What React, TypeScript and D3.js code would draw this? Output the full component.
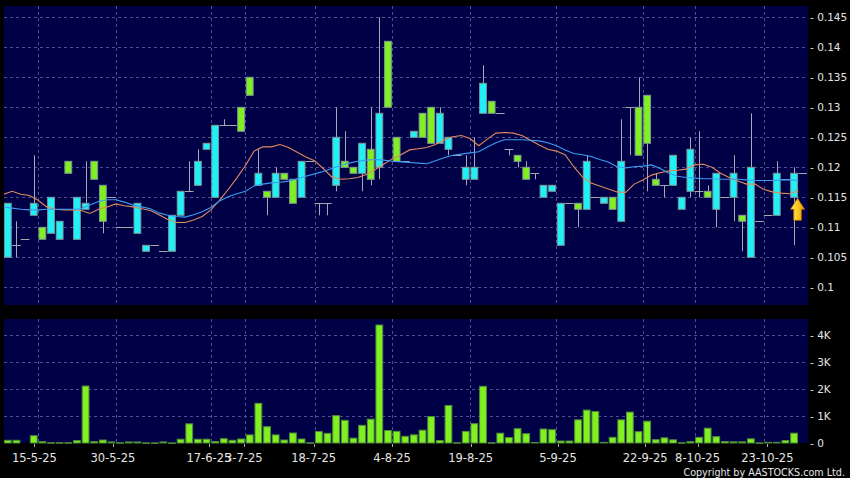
import React from 'react';
import * as d3 from 'd3';

// ---- DATA ----
const opens = [
  0.105, 0.107, 0.108, 0.112, 0.110, 0.109, 0.108, 0.121, 0.108, 0.113,
  0.121, 0.117, 0.115, 0.110, 0.110, 0.109, 0.106, 0.107, 0.106, 0.106,
  0.112, 0.116, 0.117, 0.123, 0.115, 0.127, 0.127, 0.130, 0.135, 0.117,
  0.116, 0.115, 0.119, 0.118, 0.115, 0.121, 0.114, 0.114, 0.117, 0.121,
  0.120, 0.119, 0.123, 0.120, 0.141, 0.125, 0.121, 0.125, 0.129, 0.130,
  0.124, 0.123, 0.122, 0.118, 0.118, 0.129, 0.131, 0.129, 0.123, 0.122,
  0.120, 0.119, 0.115, 0.116, 0.107, 0.114, 0.114, 0.113, 0.115, 0.114,
  0.115, 0.111, 0.130, 0.130, 0.132, 0.118, 0.117, 0.117, 0.113, 0.116,
  0.116, 0.116, 0.113, 0.115, 0.115, 0.112, 0.105, 0.111, 0.112, 0.112,
  0.118, 0.115, 0.119,
];
const closes = [
  0.114, 0.107, 0.108, 0.114, 0.108, 0.115, 0.111, 0.119, 0.115, 0.114,
  0.118, 0.111, 0.115, 0.110, 0.110, 0.114, 0.107, 0.107, 0.106, 0.112,
  0.116, 0.116, 0.121, 0.124, 0.127, 0.127, 0.127, 0.126, 0.132, 0.119,
  0.115, 0.119, 0.118, 0.114, 0.121, 0.121, 0.114, 0.114, 0.125, 0.120,
  0.119, 0.124, 0.118, 0.129, 0.130, 0.121, 0.121, 0.126, 0.125, 0.124,
  0.129, 0.125, 0.122, 0.120, 0.120, 0.134, 0.129, 0.129, 0.123, 0.121,
  0.118, 0.119, 0.117, 0.117, 0.114, 0.114, 0.113, 0.121, 0.115, 0.115,
  0.113, 0.121, 0.130, 0.122, 0.124, 0.117, 0.117, 0.122, 0.115, 0.123,
  0.116, 0.115, 0.119, 0.115, 0.119, 0.111, 0.120, 0.111, 0.112, 0.119,
  0.118, 0.119, 0.119,
];
const highs = [
  0.114, 0.111, 0.108, 0.122, 0.110, 0.115, 0.111, 0.121, 0.115, 0.121,
  0.121, 0.117, 0.115, 0.110, 0.110, 0.114, 0.107, 0.107, 0.106, 0.112,
  0.116, 0.121, 0.123, 0.124, 0.127, 0.128, 0.127, 0.130, 0.135, 0.123,
  0.116, 0.120, 0.119, 0.118, 0.121, 0.121, 0.114, 0.114, 0.130, 0.126,
  0.120, 0.124, 0.130, 0.145, 0.141, 0.125, 0.121, 0.126, 0.129, 0.130,
  0.130, 0.125, 0.122, 0.122, 0.125, 0.137, 0.131, 0.129, 0.123, 0.122,
  0.121, 0.119, 0.117, 0.117, 0.114, 0.114, 0.114, 0.122, 0.115, 0.115,
  0.115, 0.128, 0.130, 0.135, 0.132, 0.119, 0.117, 0.122, 0.115, 0.125,
  0.126, 0.117, 0.119, 0.115, 0.122, 0.112, 0.129, 0.111, 0.112, 0.121,
  0.118, 0.120, 0.119,
];
const lows = [
  0.105, 0.105, 0.108, 0.112, 0.108, 0.109, 0.108, 0.119, 0.108, 0.113,
  0.118, 0.109, 0.115, 0.110, 0.110, 0.109, 0.106, 0.107, 0.106, 0.106,
  0.112, 0.116, 0.117, 0.123, 0.115, 0.127, 0.127, 0.126, 0.132, 0.117,
  0.112, 0.115, 0.118, 0.114, 0.115, 0.121, 0.112, 0.112, 0.116, 0.120,
  0.119, 0.116, 0.117, 0.118, 0.130, 0.121, 0.121, 0.125, 0.125, 0.124,
  0.124, 0.122, 0.122, 0.117, 0.118, 0.129, 0.129, 0.129, 0.122, 0.120,
  0.118, 0.118, 0.115, 0.116, 0.107, 0.114, 0.110, 0.113, 0.115, 0.114,
  0.113, 0.111, 0.122, 0.122, 0.116, 0.117, 0.115, 0.117, 0.113, 0.115,
  0.115, 0.115, 0.110, 0.115, 0.111, 0.106, 0.105, 0.111, 0.112, 0.112,
  0.118, 0.107, 0.119,
];
const volumes = [
  100, 100, 0, 270, 50, 10, 10, 10, 90, 2110,
  50, 110, 40, 10, 40, 40, 5, 5, 40, 5,
  140, 710, 140, 140, 55, 160, 100, 148, 300, 1470,
  605, 300, 111, 370, 148, 10, 425, 358, 1015, 840,
  180, 655, 883, 4370, 463, 432, 247, 302, 475, 980,
  93, 1390, 10, 430, 716, 2100, 10, 364, 200, 530,
  345, 20, 518, 493, 74, 74, 858, 1220, 1165, 25,
  210, 858, 1145, 420, 808, 123, 191, 117, 10, 50,
  210, 549, 235, 55, 44, 44, 154, 5, 25, 25,
  93, 364, 0,
];
// moving averages (value at the left boundary of each candle)
const maShort = [
  0.1155, 0.1160, 0.1155, 0.1153, 0.1145, 0.1134, 0.1130, 0.1129, 0.1129, 0.1128,
  0.1123, 0.1130, 0.1134, 0.1139, 0.1136, 0.1134, 0.1131, 0.1128, 0.1121, 0.1113,
  0.1108, 0.1108, 0.1112, 0.1118, 0.1129, 0.1145, 0.1163, 0.1182, 0.1203, 0.1227,
  0.1234, 0.1234, 0.1238, 0.1233, 0.1225, 0.1217, 0.1211, 0.1198, 0.1184, 0.1180,
  0.1181, 0.1183, 0.1188, 0.1196, 0.1205, 0.1214, 0.1221, 0.1229, 0.1231, 0.1233,
  0.1238, 0.1246, 0.1251, 0.1253, 0.1248, 0.1236, 0.1247, 0.1257, 0.1258, 0.1257,
  0.1253, 0.1245, 0.1237, 0.1230, 0.1227, 0.1221, 0.1201, 0.1184, 0.1174, 0.1169,
  0.1164, 0.1159, 0.1158, 0.1172, 0.1179, 0.1187, 0.1191, 0.1194, 0.1195, 0.1197,
  0.1204, 0.1205, 0.1200, 0.1190, 0.1183, 0.1177, 0.1172, 0.1172, 0.1163, 0.1159,
  0.1157, 0.1156, 0.1161,
];
const maLong = [
  0.1134, 0.1132, 0.1130, 0.1129, 0.1129, 0.1130, 0.1130, 0.1130, 0.1130, 0.1131,
  0.1137, 0.1143, 0.1146, 0.1146, 0.1142, 0.1137, 0.1134, 0.1131, 0.1124, 0.1120,
  0.1118, 0.1117, 0.1121, 0.1126, 0.1133, 0.1144, 0.1151, 0.1156, 0.1160, 0.1169,
  0.1172, 0.1174, 0.1175, 0.1177, 0.1181, 0.1185, 0.1189, 0.1193, 0.1198, 0.1203,
  0.1207, 0.1210, 0.1212, 0.1213, 0.1212, 0.1210, 0.1209, 0.1208, 0.1207, 0.1206,
  0.1211, 0.1216, 0.1220, 0.1222, 0.1224, 0.1226, 0.1234, 0.1241, 0.1246, 0.1246,
  0.1246, 0.1245, 0.1244, 0.1241, 0.1236, 0.1229, 0.1223, 0.1221, 0.1218, 0.1213,
  0.1209, 0.1201, 0.1199, 0.1201, 0.1202, 0.1204, 0.1198, 0.1190, 0.1185, 0.1183,
  0.1182, 0.1181, 0.1181, 0.1180, 0.1180, 0.1180, 0.1179, 0.1178, 0.1178, 0.1178,
  0.1179, 0.1179, 0.1178,
];
const tickIndex = [3, 12, 23, 27, 35, 44, 53, 63, 73, 79, 87];
const tickLabels = ['15-5-25', '30-5-25', '17-6-25', '3-7-25', '18-7-25', '4-8-25', '19-8-25', '5-9-25', '22-9-25', '8-10-25', '23-10-25'];
const priceTicks = [0.1, 0.105, 0.11, 0.115, 0.12, 0.125, 0.13, 0.135, 0.14, 0.145];
const volumeTicks = [0, 1000, 2000, 3000, 4000];
const volumeTickLabels = ['0', '1K', '2K', '3K', '4K'];

// ---- LAYOUT ----
const W = 850, H = 478;
const PL = 4, PR = 808;
const P1T = 6, P1B = 305;
const P2T = 319, P2B = 443;
const BG = '#000046';
const GRID = '#4e4e8e';
const CYAN = '#1ef2f8';
const GREEN = '#80f020';
const OUTLINE = '#7c9696';
const WICK = '#a8a8b0';
const TXT = '#e4e4e4';
const FONT = '"DejaVu Sans", Verdana, sans-serif';

export default function App() {
  const n = opens.length;
  const x = d3.scaleLinear().domain([-0.5, n - 0.5]).range([3.5, 807]);
  const step = x(1) - x(0);
  const y = d3.scaleLinear().domain([0.1, 0.145]).range([287.3, 17.3]);
  const yv = d3.scaleLinear().domain([0, 4000]).range([P2B, 335]);
  const labelX = d3.scaleLinear().domain([PL, PR]).range([0, 812]);
  const idx = d3.range(n);
  const bodyW = 6.8;

  const maLine = (vals: number[]) =>
    d3.line<number>().x((_, j) => x(j - 0.5)).y((v) => y(v))(vals) || '';

  const gridXs = tickIndex.map((i) => x(i + 0.5));
  const last = n - 2;
  const arrowX = x(last) + 3.5;
  const arrowY = y(Math.min(opens[last], closes[last])) + 1;

  return (
    <svg width={W} height={H} style={{ position: 'absolute', left: 0, top: 0, background: '#000' }}
      xmlns="http://www.w3.org/2000/svg">
      <defs>
        <linearGradient id="arr" x1="0" y1="0" x2="1" y2="0">
          <stop offset="0" stopColor="#ffe680" />
          <stop offset="0.5" stopColor="#ffc820" />
          <stop offset="1" stopColor="#e89a00" />
        </linearGradient>
        <clipPath id="c1"><rect x={PL} y={P1T} width={PR - PL} height={P1B - P1T} /></clipPath>
      </defs>
      <rect x={0} y={0} width={W} height={H} fill="#000" />
      <rect x={PL} y={P1T} width={PR - PL} height={P1B - P1T} fill={BG} />
      <rect x={PL} y={P2T} width={PR - PL} height={P2B - P2T} fill={BG} />

      {/* grids */}
      <g stroke={GRID} strokeWidth={1} strokeDasharray="3,3" shapeRendering="crispEdges">
        {priceTicks.map((t) => (
          <line key={'hp' + t} x1={PL} x2={PR} y1={Math.round(y(t)) + 0.5} y2={Math.round(y(t)) + 0.5} />
        ))}
        {volumeTicks.slice(1).map((t) => (
          <line key={'hv' + t} x1={PL} x2={PR} y1={Math.round(yv(t)) + 0.5} y2={Math.round(yv(t)) + 0.5} />
        ))}
        {gridXs.map((g, k) => (
          <g key={'vg' + k}>
            <line x1={Math.round(g) + 0.5} x2={Math.round(g) + 0.5} y1={P1T} y2={P1B} />
            <line x1={Math.round(g) + 0.5} x2={Math.round(g) + 0.5} y1={P2T} y2={P2B} />
          </g>
        ))}
      </g>

      {/* candles */}
      <g clipPath="url(#c1)">
        {idx.map((i) => {
          const cx = x(i);
          const o = opens[i], c = closes[i], hi = highs[i], lo = lows[i];
          const top = Math.max(o, c), bot = Math.min(o, c);
          const els: React.ReactNode[] = [];
          if (hi > lo) {
            els.push(<line key="w" x1={Math.round(cx) + 0.5} x2={Math.round(cx) + 0.5} y1={y(hi)} y2={y(lo)} stroke={WICK} strokeWidth={1} />);
          }
          if (top > bot) {
            els.push(
              <rect key="b" x={cx - bodyW / 2} y={y(top)} width={bodyW} height={y(bot) - y(top)}
                fill={c > o ? CYAN : GREEN} stroke={OUTLINE} strokeWidth={1} />
            );
          } else {
            els.push(<line key="f" x1={cx - step / 2} x2={cx + step / 2} y1={Math.round(y(o)) + 0.5} y2={Math.round(y(o)) + 0.5} stroke={WICK} strokeWidth={1} />);
          }
          return <g key={i}>{els}</g>;
        })}
        <path d={maLine(maShort)} fill="none" stroke="#e08a5c" strokeWidth={1.1} />
        <path d={maLine(maLong)} fill="none" stroke="#3a9cf0" strokeWidth={1.1} />
      </g>

      {/* arrow on last candle */}
      <polygon
        transform={`translate(${arrowX},${arrowY})`}
        points="0,0 7,11 3.8,11 3.8,22 -3.8,22 -3.8,11 -7,11"
        fill="url(#arr)" stroke="#b87000" strokeWidth={0.8}
      />

      {/* volume bars */}
      <g>
        {idx.filter((i) => volumes[i] > 0).map((i) => (
          <rect key={'v' + i} x={x(i) - bodyW / 2} y={yv(volumes[i])} width={bodyW}
            height={Math.max(0.5, P2B - yv(volumes[i]))} fill={GREEN} stroke="#4f8a3a" strokeWidth={1} />
        ))}
      </g>

      {/* price axis labels */}
      <g fontFamily={FONT} fontSize={10.5} fill={TXT}>
        {priceTicks.map((t) => (
          <text key={'pt' + t} x={810} y={y(t) + 3.8}>{'- ' + d3.format('.3~f')(t)}</text>
        ))}
        {volumeTicks.map((t, k) => (
          <text key={'vt' + t} x={810} y={yv(t) + 3.8}>{'- ' + volumeTickLabels[k]}</text>
        ))}
      </g>

      {/* date ticks and labels */}
      <g>
        {gridXs.map((g, k) => {
          const lx = labelX(g);
          return (
            <g key={'dl' + k}>
              <line x1={Math.round(lx) + 0.5} x2={Math.round(lx) + 0.5} y1={P2B + 1} y2={P2B + 4} stroke="#aaaaaa" />
              <text x={lx} y={461.5} textAnchor="middle" fontFamily={FONT} fontSize={11.5} fill={TXT}>{tickLabels[k]}</text>
            </g>
          );
        })}
      </g>

      <text x={845} y={475.5} textAnchor="end" fontFamily={FONT} fontSize={9.6} fill={TXT}>Copyright by AASTOCKS.com Ltd.</text>
    </svg>
  );
}
